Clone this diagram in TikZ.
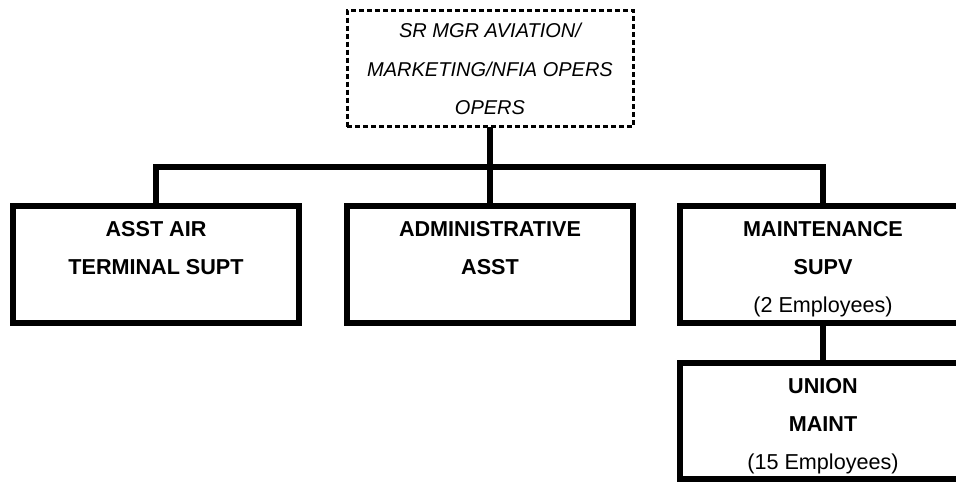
\documentclass[tikz,border=0pt]{standalone}
\usepackage{fontspec}
\setmainfont{Liberation Sans}
\usetikzlibrary{positioning}
\tikzset{
  post box/.style={
    draw=black,
    line width=6pt,
    minimum width=286pt,
    minimum height=116.5pt,
    inner sep=0pt,
    outer sep=0pt,
    align=center,
    text height=96pt,
    text depth=0pt,
    font=\fontsize{21.6}{38}\selectfont\bfseries
  },
  head box/.style={
    post box,
    line width=3pt,
    dash pattern=on 5pt off 3pt,
    text height=93pt,
    font=\fontsize{20}{38.5}\selectfont\itshape
  },
  link/.style={
    draw=black,
    line width=6pt
  }
}
\begin{document}
\begin{tikzpicture}[x=1pt, y=-1pt]
  \clip (0,0) rectangle (956,482);

  %% ---- second row ----
  \node[post box] (admin) at (490,264.5) {ADMINISTRATIVE\\ASST\\\mbox{}};
  \node[post box, left=48pt of admin]  (terminal) {ASST AIR\\TERMINAL SUPT\\\mbox{}};
  \node[post box, right=47pt of admin] (maint) {MAINTENANCE\\SUPV\\{\mdseries(2 Employees)}};

  %% ---- top and bottom ----
  \node[head box, above=79.75pt of admin] (mgr) {SR MGR AVIATION/\\MARKETING/NFIA OPERS\\OPERS};
  \node[post box, below=40pt of maint] (union) {UNION\\MAINT\\{\mdseries(15 Employees)}};

  %% ---- links ----
  \coordinate (bus) at (490,167);
  \draw[link] (mgr.south) -- (admin.north);
  \draw[link] (terminal.north) |- (bus) -| (maint.north);
  \draw[link] (maint.south) -- (union.north);
\end{tikzpicture}
\end{document}
